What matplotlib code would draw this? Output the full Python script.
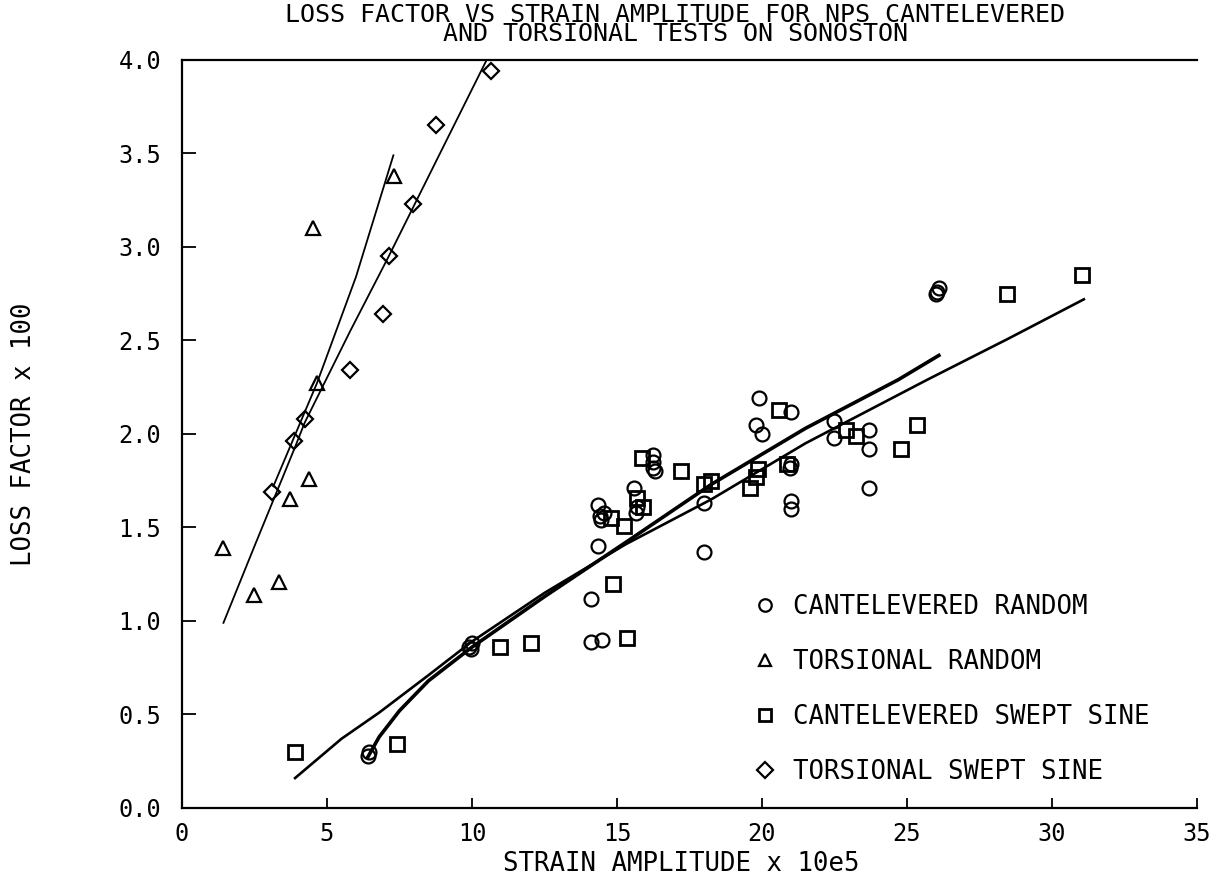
import numpy as np
import matplotlib
matplotlib.use("Agg")
import matplotlib.pyplot as plt

plt.rcParams['font.family'] = ['DejaVu Sans Mono', 'DejaVu Sans']

# cantelevered random (circles)
cr_x = [6.4, 6.45, 9.9, 10.0, 9.95, 14.1, 14.1, 14.5, 14.35, 14.35, 14.4, 14.55, 14.45,
        15.6, 15.7, 15.65, 16.25, 16.25, 16.25, 16.3, 18.0, 18.0, 19.9, 19.8, 20.0,
        21.0, 21.0, 21.0, 20.95, 21.0, 22.5, 22.5, 23.7, 23.7, 23.7, 26.0, 26.1, 26.05]
cr_y = [0.28, 0.30, 0.86, 0.88, 0.85, 1.12, 0.89, 0.90, 1.40, 1.62, 1.56, 1.58, 1.54,
        1.71, 1.61, 1.58, 1.89, 1.85, 1.82, 1.80, 1.37, 1.63, 2.19, 2.05, 2.00,
        2.12, 1.64, 1.60, 1.82, 1.84, 2.07, 1.98, 2.02, 1.92, 1.71, 2.75, 2.78, 2.76]

# torsional random (triangles)
tr_x = [1.42, 2.47, 3.33, 3.73, 4.37, 4.53, 4.65, 7.30]
tr_y = [1.39, 1.14, 1.21, 1.65, 1.76, 3.10, 2.27, 3.38]

# cantelevered swept sine (squares)
cs_x = [3.9, 7.4, 10.95, 12.05, 14.85, 15.35, 14.8, 15.25, 15.85, 15.7, 15.9, 17.2, 18.0,
        18.25, 19.6, 19.8, 19.85, 20.6, 20.85, 22.9, 23.25, 24.8, 25.35, 28.45, 31.05]
cs_y = [0.30, 0.34, 0.86, 0.88, 1.20, 0.91, 1.55, 1.51, 1.87, 1.66, 1.61, 1.80, 1.73,
        1.75, 1.71, 1.77, 1.81, 2.13, 1.84, 2.02, 1.99, 1.92, 2.05, 2.75, 2.85]

# torsional swept sine (diamonds)
ts_x = [3.12, 3.88, 4.23, 5.80, 6.92, 7.13, 7.95, 8.77, 10.64]
ts_y = [1.69, 1.96, 2.08, 2.34, 2.64, 2.95, 3.23, 3.65, 3.94]

# fitted curves
fit_tr_x = [3.15, 4.65, 6.0, 7.29]
fit_tr_y = [1.72, 2.27, 2.84, 3.49]
fit_ts_x = [1.43, 2.5, 3.9, 4.23, 5.8, 7.13, 8.8, 10.57]
fit_ts_y = [0.99, 1.40, 1.93, 2.06, 2.55, 2.95, 3.47, 4.02]
fit_cr_x = [6.4, 6.8, 7.5, 8.5, 10.0, 12.5, 15.3, 18.25, 21.5, 24.7, 26.1]
fit_cr_y = [0.27, 0.38, 0.52, 0.68, 0.86, 1.13, 1.42, 1.73, 2.03, 2.29, 2.42]
fit_cs_x = [3.9, 5.5, 6.8, 8.5, 10.0, 12.5, 15.3, 18.25, 21.5, 25.7, 28.5, 31.1]
fit_cs_y = [0.16, 0.37, 0.51, 0.71, 0.89, 1.15, 1.41, 1.65, 1.95, 2.29, 2.51, 2.72]

fig = plt.figure(figsize=(12.23, 8.75), dpi=100)
ax = fig.add_axes([0.1488, 0.0766, 0.8299, 0.8549])

mk = dict(linestyle='none', markerfacecolor='none', markeredgecolor='black',
          markersize=10, markeredgewidth=1.6)
ax.plot(cr_x, cr_y, marker='o', label='CANTELEVERED RANDOM', **mk)
ax.plot(tr_x, tr_y, marker='^', label='TORSIONAL RANDOM', **mk)
ax.plot(cs_x, cs_y, marker='s', label='CANTELEVERED SWEPT SINE',
        **{**mk, 'markeredgewidth': 2.0})
ax.plot(ts_x, ts_y, marker='D', label='TORSIONAL SWEPT SINE',
        **{**mk, 'markersize': 8.5})

ax.plot(fit_tr_x, fit_tr_y, color='black', lw=1.3)
ax.plot(fit_ts_x, fit_ts_y, color='black', lw=1.3)
ax.plot(fit_cr_x, fit_cr_y, color='black', lw=2.6)
ax.plot(fit_cs_x, fit_cs_y, color='black', lw=1.9)

ax.set_xlim(0, 35)
ax.set_ylim(0, 4)
ax.set_xticks(np.arange(0, 36, 5))
ax.set_yticks(np.arange(0, 4.01, 0.5))
ax.set_yticklabels([f"{v:.1f}" for v in np.arange(0, 4.01, 0.5)])
ax.tick_params(axis='both', direction='in', labelsize=17, width=1.3, colors='black')
ax.tick_params(axis='y', length=10, pad=15)
ax.tick_params(axis='x', length=7, pad=10)
ax.spines['right'].set_visible(False)
for s in ['left', 'bottom', 'top']:
    ax.spines[s].set_linewidth(1.6)

ax.set_xlabel("STRAIN AMPLITUDE x 10e5", fontsize=18.5)
ax.xaxis.set_label_coords(0.492, -0.057)
ax.set_ylabel("LOSS FACTOR x 100", fontsize=18.5)
ax.yaxis.set_label_coords(-0.143, 0.5)

fig.text(0.552, 0.997, "LOSS FACTOR VS STRAIN AMPLITUDE FOR NPS CANTELEVERED\nAND TORSIONAL TESTS ON SONOSTON",
         ha='center', va='top', fontsize=18, linespacing=0.78)

ax.legend(loc='upper left', bbox_to_anchor=(0.615, 0.3212), bbox_transform=fig.transFigure,
          frameon=False, fontsize=18.5, handlelength=1.0, handletextpad=0.6,
          labelspacing=1.13, borderpad=0, borderaxespad=0, markerscale=0.9)

fig.savefig("out.png", dpi=100)
